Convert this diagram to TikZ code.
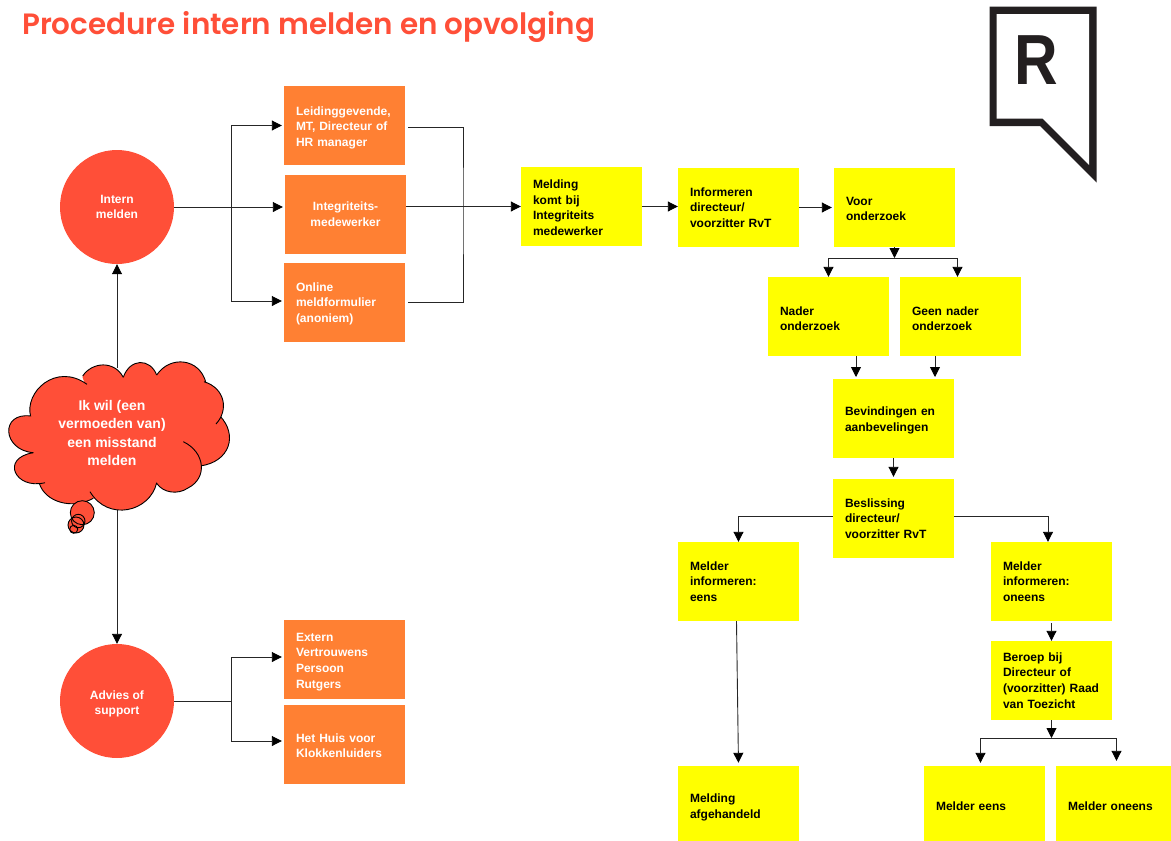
\documentclass[tikz,border=0pt]{standalone}
\usepackage{fontspec}
\setmainfont{Liberation Sans}
\newfontfamily\titlefont{Poppins SemiBold}
\usetikzlibrary{calc, arrows.meta}
\definecolor{rred}{HTML}{FF4F38}
\definecolor{rorange}{HTML}{FF8033}
\definecolor{ryellow}{HTML}{FFFF00}
\definecolor{rlogo}{HTML}{231F20}
\newcommand{\lowfirst}[1]{\rule{0pt}{#1pt}}
\tikzset{
  >={Triangle[length=10pt,width=10pt,black]},
  conn/.style={draw=black!85,line width=0.9pt},
  flowbox/.style={minimum width=121pt,minimum height=79pt,text width=97pt,align=left,inner sep=0pt,font=\bfseries\fontsize{12}{15.7}\selectfont},
  orangebox/.style={flowbox,fill=rorange,text=white},
  yellowbox/.style={flowbox,fill=ryellow,text=black},
  redcircle/.style={circle,fill=rred,text=white,minimum size=114pt,inner sep=0pt,align=center,font=\bfseries\fontsize{12}{15.7}\selectfont},
  bump/.style={fill=rred,draw=black,line width=0.9pt},
}
\begin{document}
\begin{tikzpicture}[x=1pt,y=-1pt]
  \useasboundingbox (0,0) rectangle (1171,841);
  \node[anchor=west,inner sep=0pt,text=rred,font=\titlefont\fontsize{29.4}{30}\selectfont] (title) at (22,26.5) {Procedure intern melden en opvolging};
  % logo
  \fill[rlogo] (989.5,6.5) -- (1096.5,6.5) -- (1096.5,182.5) -- (1040,126) -- (989.5,126) -- cycle;
  \fill[white] (996.5,14) -- (1089,14) -- (1089,165) -- (1042.5,118.5) -- (996.5,118.5) -- cycle;
  \node[inner sep=0pt,text=rlogo,xscale=.85,font=\fontsize{71}{71}\selectfont\bfseries] (logoR) at (1036.5,60.5) {R};
  % connector ends
  \coordinate (cloudtop) at (117,368);
  \coordinate (cloudbot) at (117,510);
  \coordinate (busL) at (231,207);
  \coordinate (busR) at (463,207);
  \coordinate (busA) at (231,701);
  \coordinate (juncV) at (894.5,258);
  \coordinate (juncB) at (1051.5,738);
  \coordinate (bevA) at (856,379);
  \coordinate (bevB) at (935,379);
  % circles
  \node[redcircle] (intern) at (117,207) {Intern\\melden};
  \node[redcircle] (advies) at (117,701) {\lowfirst{14.5}Advies of\\support};
  % orange boxes
  \node[orangebox] (lead) at (344.5,125.5) {\lowfirst{13}Leidinggevende,\\MT, Directeur of\\HR manager};
  \node[orangebox,align=center] (integ) at (345.5,214.5) {Integriteits-\\medewerker};
  \node[orangebox] (online) at (344.5,302.5) {\lowfirst{11}Online\\meldformulier\\(anoniem)};
  \node[orangebox] (extern) at (344.5,659.5) {\lowfirst{13}Extern\\Vertrouwens\\Persoon\\Rutgers};
  \node[orangebox] (huis) at (344.5,744.5) {\lowfirst{11}Het Huis voor\\Klokkenluiders};
  % yellow boxes
  \node[yellowbox] (melding) at (581.5,206.5) {\lowfirst{11}Melding\\komt bij\\Integriteits\\medewerker};
  \node[yellowbox] (inform) at (738.5,207.5) {Informeren\\directeur/\\voorzitter RvT};
  \node[yellowbox] (voor) at (894.5,207.5) {\lowfirst{11}Voor\\onderzoek};
  \node[yellowbox] (nader) at (828.5,316.5) {\lowfirst{13}Nader\\onderzoek};
  \node[yellowbox] (geen) at (960.5,316.5) {\lowfirst{13}Geen nader\\onderzoek};
  \node[yellowbox] (bevind) at (893.5,418.5) {\lowfirst{13}Bevindingen en\\aanbevelingen};
  \node[yellowbox] (besl) at (893.5,518.5) {Beslissing\\directeur/\\voorzitter RvT};
  \node[yellowbox] (eens) at (738.5,581.5) {Melder\\informeren:\\eens};
  \node[yellowbox] (oneens) at (1051.5,581.5) {Melder\\informeren:\\oneens};
  \node[yellowbox] (beroep) at (1051.5,680.5) {Beroep bij\\Directeur of\\(voorzitter) Raad\\van Toezicht};
  \node[yellowbox,minimum height=75pt] (afgeh) at (738.5,803.5) {\lowfirst{17}Melding\\afgehandeld};
  \node[yellowbox,minimum height=75pt] (meens) at (984.5,803.5) {\lowfirst{15}Melder eens};
  \node[yellowbox,minimum height=75pt,minimum width=115pt,text width=91pt] (moneens) at (1113.5,803.5) {\lowfirst{15}Melder oneens};
  % left side
  \draw[conn,->] (cloudtop) -- (intern.south);
  \draw[conn,->] (cloudbot) -- (advies.north);
  \draw[conn,->,shorten >=2pt] (intern.east) -- (intern.east -| integ.west);
  \draw[conn,->,shorten >=2pt] (busL) |- (lead.west);
  \draw[conn,->,shorten >=2pt] (busL) |- ([yshift=1.5pt]online.west);
  \draw[conn,shorten <=3pt,shorten >=3pt] ([yshift=-1.5pt]lead.east) -| (busR) |- (online.east);
  \draw[conn,->] (melding.west -| integ.east) -- (melding.west);
  \draw[conn] (advies.east) -- (busA);
  \draw[conn,->,shorten >=2pt] (busA) |- ([yshift=2.5pt]extern.west);
  \draw[conn,->,shorten >=2pt] (busA) |- ([yshift=3.5pt]huis.west);
  % right side
  \draw[conn,->] (melding.east) -- (melding.east -| inform.west);
  \draw[conn,->,shorten >=2pt] (inform.east) -- (voor.west);
  \draw[conn,->] (voor.south) -- (juncV);
  \draw[conn,->] (juncV) -| (nader.north);
  \draw[conn,->] (juncV) -| ([xshift=-3pt]geen.north);
  \draw[conn,->,shorten >=2pt] (nader.south -| bevA) -- (bevA);
  \draw[conn,->,shorten >=2pt] (geen.south -| bevB) -- (bevB);
  \draw[conn,->,shorten >=2pt] (bevind.south) -- (besl.north);
  \draw[conn,->] ([yshift=2pt]besl.west) -| (eens.north);
  \draw[conn,->] ([yshift=2pt]besl.east) -| ([xshift=-3.5pt]oneens.north);
  \draw[conn,->,shorten <=2pt] (oneens.south) -- (beroep.north);
  \draw[conn,->,shorten >=3pt] ([xshift=-2pt]eens.south) -- (afgeh.north);
  \draw[conn,->] (beroep.south) -- (juncB);
  \draw[conn,->,shorten >=3pt] (juncB) -| ([xshift=-4pt]meens.north);
  \draw[conn,->,shorten >=5pt] (juncB) -| ([xshift=3pt]moneens.north);
  % cloud
  \filldraw[fill=rred,draw=rred,line width=3pt,line join=round] (31,417) -- (87,385) -- (84,377) -- (123,378) -- (157,376) -- (205,383) -- (216,424) -- (219,417) -- (200,465) -- (180,480) -- (157,483) -- (91,491) -- (93,497) -- (40,483) -- (45,482) -- (34,453) -- cycle;
  \filldraw[bump] (220,416) .. controls (238,435) and (230,462) .. (200,466);
  \filldraw[bump] (183.3,441.7) .. controls (205,452) and (208,478) .. (188,488) .. controls (178,495) and (163,493) .. (156.7,483.3);
  \filldraw[bump] (30.7,416.7) .. controls (24,392) and (56,362) .. (87,384.3);
  \filldraw[bump] (82.7,376) .. controls (92,362) and (114,360) .. (123.3,377.3);
  \filldraw[bump] (123.3,377.3) .. controls (130,358) and (150,358) .. (156.7,375);
  \filldraw[bump] (156.7,375) .. controls (170,355) and (200,358) .. (206,383);
  \filldraw[bump] (204,381.7) .. controls (225,388) and (229,410) .. (216,424);
  \filldraw[bump] (156.7,482.7) .. controls (150,512) and (108,522) .. (90,491.7);
  \filldraw[bump] (93.3,498.3) .. controls (72,510) and (45,502) .. (39.3,483.3);
  \filldraw[bump] (45,482.7) .. controls (15,490) and (0,458) .. (33.3,452.7);
  \filldraw[bump] (33.3,452.7) .. controls (2,450) and (0,412) .. (30.7,416);
  % thought bubbles
  \fill[rred] (82.3,512.7) circle[radius=12] (76,525) circle[radius=8];
  \draw[bump,fill=none] (82.3,512.7) circle[radius=12];
  \draw[bump,fill=none] (78.3,521) circle[radius=6.7];
  \draw[bump,fill=none] (76,525) circle[radius=8];
  \draw[bump,fill=none] (73.7,529.3) circle[radius=4];
  \node[inner sep=0pt,text=white,align=center,font=\bfseries\fontsize{14}{18.3}\selectfont] (wish) at (112,433) {Ik wil (een\\vermoeden van)\\een misstand\\melden};
\end{tikzpicture}
\end{document}
